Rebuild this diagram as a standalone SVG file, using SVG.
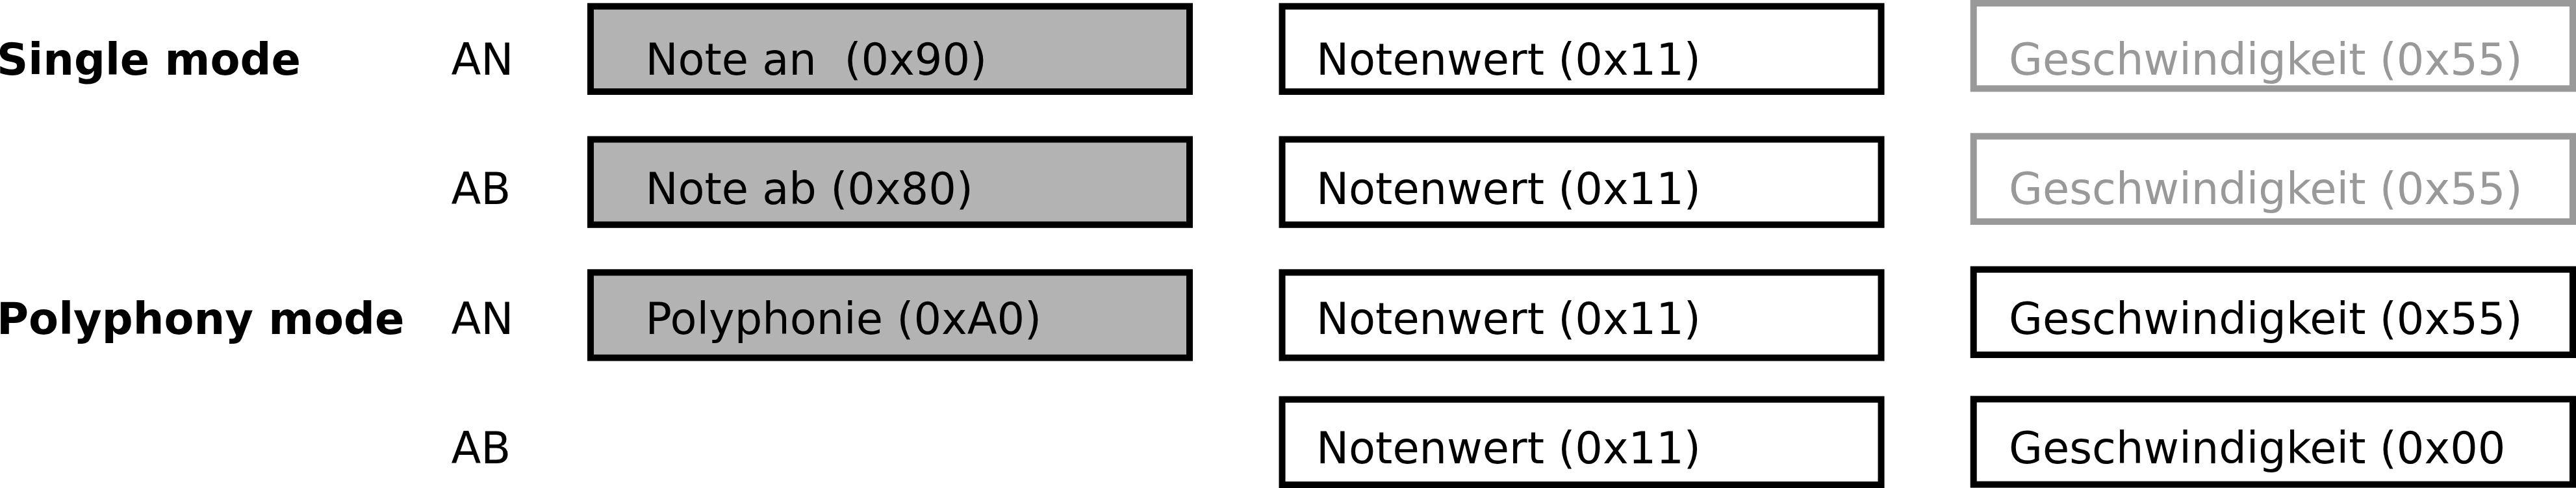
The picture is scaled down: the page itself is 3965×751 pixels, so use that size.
<svg xmlns="http://www.w3.org/2000/svg" width="3965" height="751" viewBox="0 0 3965 751">
<style>
text{font-family:"DejaVu Sans","Noto Sans",sans-serif;font-size:67px;fill:#000;white-space:pre}
.hd{font-weight:bold}
.box{stroke:#000;stroke-width:10;fill:#fff}
.cmd{fill:#b3b3b3}
.dim rect{stroke:#999}
.dim text{fill:#999}
</style>
<rect width="3965" height="751" fill="#fff"/>
<g id="labels">
<text class="hd" x="-5" y="114.5">Single mode</text>
<text class="hd" x="-5" y="514.3">Polyphony mode</text>
<text x="694.5" y="114.5">AN</text>
<text x="694.5" y="314.3">AB</text>
<text x="694.5" y="514.3">AN</text>
<text x="694.5" y="713.3">AB</text>
</g>
<g id="connectors"/>
<g id="single-an-status"><rect class="box cmd" x="909" y="9.7" width="922" height="131.3"/><text x="993.4" y="114.5" xml:space="preserve">Note an  (0x90)</text></g>
<g id="single-an-note"><rect class="box" x="1973.5" y="9.7" width="922" height="131.3"/><text x="2026" y="114.5">Notenwert (0x11)</text></g>
<g id="single-an-velocity" class="dim"><rect class="box" x="3037.7" y="5" width="922.3" height="131.3"/><text x="3092" y="114.5">Geschwindigkeit (0x55)</text></g>
<g id="single-ab-status"><rect class="box cmd" x="909" y="214.5" width="922" height="131.3"/><text x="993.4" y="314.3">Note ab (0x80)</text></g>
<g id="single-ab-note"><rect class="box" x="1973.5" y="214.5" width="922" height="131.3"/><text x="2026" y="314.3">Notenwert (0x11)</text></g>
<g id="single-ab-velocity" class="dim"><rect class="box" x="3037.7" y="209.7" width="922.3" height="131.3"/><text x="3092" y="314.3">Geschwindigkeit (0x55)</text></g>
<g id="poly-an-status"><rect class="box cmd" x="909" y="419.3" width="922" height="131.3"/><text x="993.4" y="514.3">Polyphonie (0xA0)</text></g>
<g id="poly-an-note"><rect class="box" x="1973.5" y="419.3" width="922" height="131.3"/><text x="2026" y="514.3">Notenwert (0x11)</text></g>
<g id="poly-an-velocity"><rect class="box" x="3037.7" y="414.7" width="922.3" height="131.3"/><text x="3092" y="514.3">Geschwindigkeit (0x55)</text></g>
<g id="poly-ab-note"><rect class="box" x="1973.5" y="614.7" width="922" height="131.3"/><text x="2026" y="713.3">Notenwert (0x11)</text></g>
<g id="poly-ab-velocity"><rect class="box" x="3037.7" y="614.3" width="922.3" height="131.3"/><text x="3092" y="713.3">Geschwindigkeit (0x00</text></g>
</svg>
